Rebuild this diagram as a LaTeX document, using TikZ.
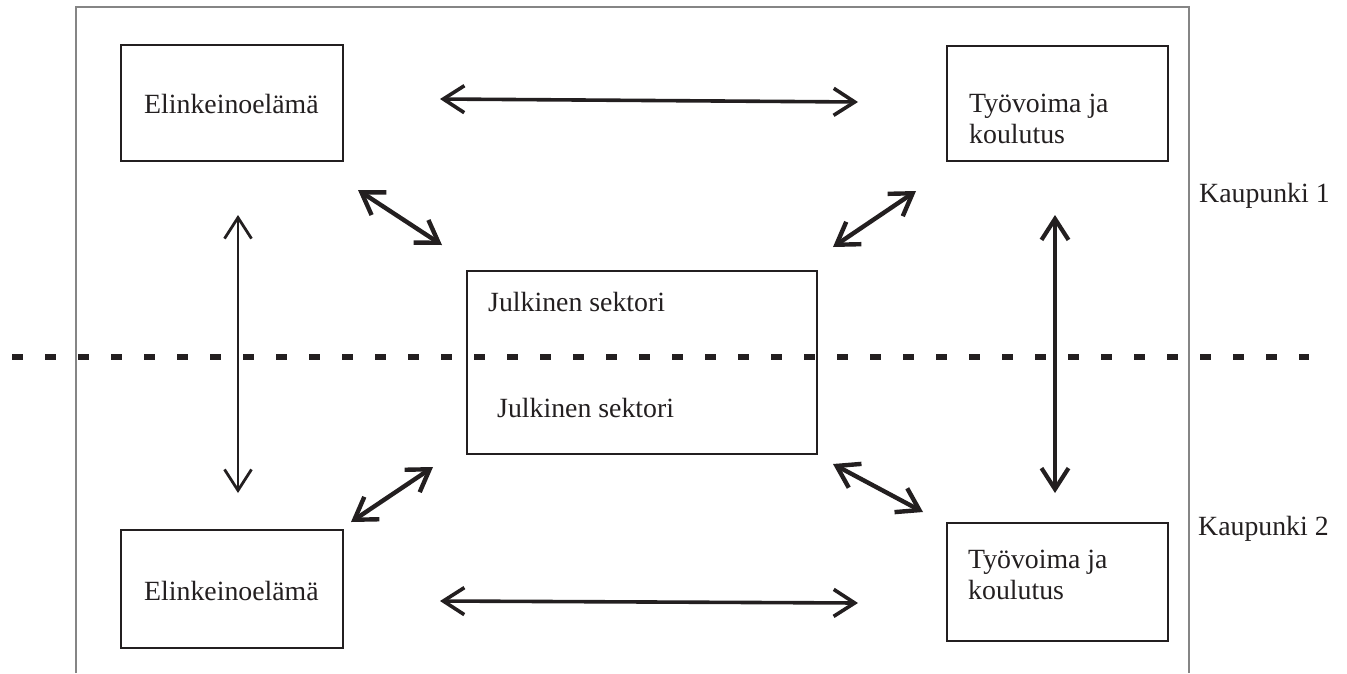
\documentclass[tikz,border=0pt]{standalone}
\usepackage{fontspec}
\setmainfont{Liberation Serif}
\usetikzlibrary{arrows.meta}
\definecolor{ink}{HTML}{231F20}
\definecolor{framegray}{HTML}{858585}
\begin{document}
\begin{tikzpicture}[x=1pt,y=-1pt,
  box/.style={draw=ink,line width=1.2pt,rectangle,inner sep=0pt},
  lbl/.style={anchor=base west,inner sep=0pt,text=ink,font=\fontsize{27.8}{31}\selectfont,align=left},
  link/.style={draw=ink,{Straight Barb[length=21pt,width=27pt]}-{Straight Barb[length=21pt,width=27pt]}},
  divider/.style={draw=ink,line width=5.5pt,dash pattern=on 11pt off 22pt}
]
\useasboundingbox (0,0) rectangle (1347,673);

% city frame, open at the bottom
\draw[framegray,line width=1.3pt] (76,673) -- (76,7) -- (1189,7) -- (1189,673);

% boxes
\node[box,minimum width=222pt,minimum height=116pt] (elTop) at (232,103) {};
\node[box,minimum width=221pt,minimum height=115pt] (tyTop) at (1057.5,103.5) {};
\node[box,minimum width=350pt,minimum height=183pt] (julk) at (642,362.5) {};
\node[box,minimum width=222pt,minimum height=118pt] (elBot) at (232,589) {};
\node[box,minimum width=221pt,minimum height=118pt] (tyBot) at (1057.5,582) {};

% border between the two cities
\coordinate (divL) at (12,357);
\coordinate (divR) at (1309,357);
\draw[divider] (divL) -- (divR);

% labels (two-line labels are placed by the baseline of their last line)
\node[lbl] (tElTop) at (144,113) {Elinkeinoelämä};
\node[lbl] (tTyTop) at (969,143) {Työvoima ja\\koulutus};
\node[lbl] (tJ1) at (488,311) {Julkinen sektori};
\node[lbl] (tJ2) at (497,417) {Julkinen sektori};
\node[lbl] (tElBot) at (144,600) {Elinkeinoelämä};
\node[lbl] (tTyBot) at (968,599) {Työvoima ja\\koulutus};
\node[lbl] (k1) at (1199,202) {Kaupunki 1};
\node[lbl] (k2) at (1198,535) {Kaupunki 2};

% arrow ends
\coordinate (hTa) at (440,99);   \coordinate (hTb) at (858,102);
\coordinate (hBa) at (440,601);  \coordinate (hBb) at (858,603);
\coordinate (vLa) at (238,215);  \coordinate (vLb) at (238,493);
\coordinate (vRa) at (1055,215); \coordinate (vRb) at (1055,493);
\coordinate (dTLa) at (358,190); \coordinate (dTLb) at (442,245);
\coordinate (dTRa) at (916,191); \coordinate (dTRb) at (833,247);
\coordinate (dBLa) at (433,467); \coordinate (dBLb) at (351,522);
\coordinate (dBRa) at (833,464); \coordinate (dBRb) at (923,512);

% connections
\draw[link,line width=3.6pt] (hTa) -- (hTb);
\draw[link,line width=3.6pt] (hBa) -- (hBb);
\draw[link,line width=2.8pt] (vLa) -- (vLb);
\draw[link,line width=4.2pt] (vRa) -- (vRb);
\draw[link,line width=4.4pt] (dTLa) -- (dTLb);
\draw[link,line width=4.4pt] (dTRa) -- (dTRb);
\draw[link,line width=4.4pt] (dBLa) -- (dBLb);
\draw[link,line width=4.4pt] (dBRa) -- (dBRb);
\end{tikzpicture}
\end{document}
